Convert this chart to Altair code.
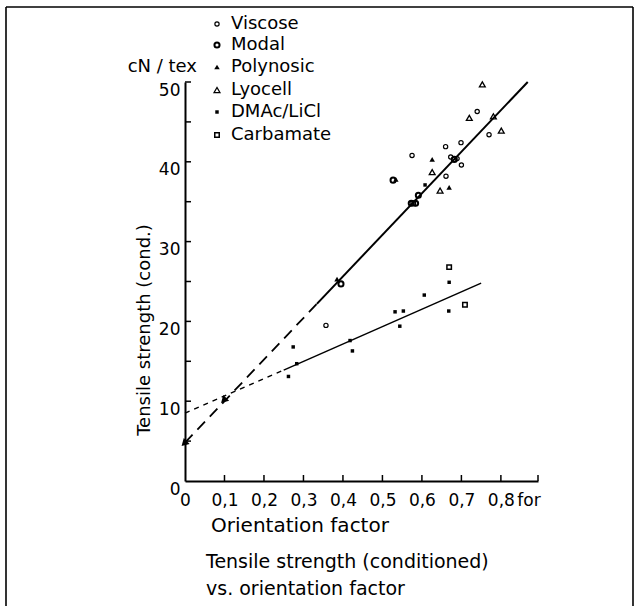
import altair as alt
import pandas as pd

# Orientation factor (x) vs. conditioned tensile strength in cN/tex (y), per fibre type
viscose_x = [0.575, 0.660, 0.699, 0.700, 0.661, 0.770, 0.357, 0.740, 0.673, 0.689]
viscose_y = [40.8, 41.9, 42.4, 39.6, 38.2, 43.4, 19.5, 46.3, 40.6, 40.4]
modal_x = [0.395, 0.527, 0.573, 0.584, 0.591, 0.682]
modal_y = [24.7, 37.7, 34.8, 34.8, 35.8, 40.3]
polynosic_x = [0.626, 0.669, 0.385, 0.534]
polynosic_y = [40.3, 36.8, 25.3, 37.8]
lyocell_x = [0.753, 0.720, 0.781, 0.801, 0.626, 0.646]
lyocell_y = [49.7, 45.5, 45.7, 43.9, 38.7, 36.4]
dmac_x = [0.262, 0.283, 0.274, 0.418, 0.424, 0.532, 0.553, 0.544, 0.606, 0.668, 0.669, 0.608]
dmac_y = [13.1, 14.7, 16.8, 17.6, 16.3, 21.2, 21.3, 19.4, 23.3, 21.3, 24.9, 37.1]
carbamate_x = [0.669, 0.709, 0.578]
carbamate_y = [26.8, 22.1, 34.8]

# Regression lines (solid where measured, dashed where extrapolated)
upper_solid_x, upper_solid_y = [0.334, 0.868], [22.2, 50.0]
upper_dash_x, upper_dash_y = [0.0, 0.334], [4.8, 22.2]
lower_dash_x, lower_dash_y = [0.0, 0.25], [8.5, 13.9]
lower_solid_x, lower_solid_y = [0.25, 0.75], [13.9, 24.8]
arrow_x, arrow_y = [0.0, 0.1], [4.8, 10.2]

# Axis ticks and labels
y_label_values = [0, 10, 20, 30, 40, 50]
y_tick_values = [5, 10, 15, 20, 25, 30, 35, 40, 45, 50]
x_label_values = [0, 0.1, 0.2, 0.3, 0.4, 0.5, 0.6, 0.7, 0.8, 0.87]
x_tick_values = [0.1, 0.2, 0.3, 0.4, 0.5, 0.6, 0.7, 0.8, 0.894]

legend_names = ["Viscose", "Modal", "Polynosic", "Lyocell", "DMAc/LiCl", "Carbamate"]

FONT = "DejaVu Sans"
W, H = 353, 399

xs = alt.Scale(domain=[0, 0.894], nice=False, zero=False)
ys = alt.Scale(domain=[0, 50], nice=False)

x_axis = alt.Axis(
    values=x_label_values, ticks=False, grid=False, title=None,
    labelExpr="datum.value > 0.85 ? 'for' : (datum.value == 0 ? '0' : replace(format(datum.value, '.1f'), '.', ','))",
    labelFont=FONT, labelFontSize=17, labelColor="black", labelPadding=11,
    labelFlush=False, labelOverlap=False,
    domainColor="black", domainWidth=1.8,
)
y_axis = alt.Axis(
    values=y_label_values, ticks=False, grid=False, title=None,
    labelFont=FONT, labelFontSize=17, labelColor="black", labelPadding=5,
    labelBaseline="top", labelFlush=False, labelOverlap=False,
    domainColor="black", domainWidth=2.0,
)

X = alt.X("x:Q", scale=xs, axis=x_axis)
Y = alt.Y("y:Q", scale=ys, axis=y_axis)

layers = []

# inward tick marks
layers.append(
    alt.Chart(pd.DataFrame({"y": y_tick_values})).mark_rule(color="black", strokeWidth=1.5)
    .encode(y=Y, x=alt.value(0), x2=alt.value(6))
)
layers.append(
    alt.Chart(pd.DataFrame({"x": x_tick_values})).mark_rule(color="black", strokeWidth=1.5)
    .encode(x=X, y=alt.value(H), y2=alt.value(H - 6))
)

# fit lines
def line(xv, yv, width, dash=None):
    kw = dict(color="black", strokeWidth=width)
    if dash:
        kw["strokeDash"] = dash
    return alt.Chart(pd.DataFrame({"x": xv, "y": yv})).mark_line(**kw).encode(x=X, y=Y)

layers.append(line(upper_solid_x, upper_solid_y, 2.0))
layers.append(line(upper_dash_x, upper_dash_y, 1.8, [11, 7]))
layers.append(line(lower_solid_x, lower_solid_y, 1.5))
layers.append(line(lower_dash_x, lower_dash_y, 1.5, [5, 5]))

layers.append(
    alt.Chart(pd.DataFrame({"x": arrow_x, "y": arrow_y}))
    .mark_point(shape="triangle", filled=True, color="black", size=70, angle=225, opacity=1)
    .encode(x=X, y=Y)
)

# marker style per fibre type: (shape, filled, size, strokeWidth)
styles = {
    "Viscose": ("circle", False, 18, 1.2),
    "Modal": ("circle", False, 26, 2.0),
    "Polynosic": ("triangle-up", True, 30, 1.0),
    "Lyocell": ("triangle-up", False, 34, 1.3),
    "DMAc/LiCl": ("square", True, 12, 1.0),
    "Carbamate": ("square", False, 20, 1.5),
}
series = {
    "Viscose": (viscose_x, viscose_y),
    "Modal": (modal_x, modal_y),
    "Polynosic": (polynosic_x, polynosic_y),
    "Lyocell": (lyocell_x, lyocell_y),
    "DMAc/LiCl": (dmac_x, dmac_y),
    "Carbamate": (carbamate_x, carbamate_y),
}

for name in legend_names:
    shape, filled, size, sw = styles[name]
    xv, yv = series[name]
    layers.append(
        alt.Chart(pd.DataFrame({"x": xv, "y": yv}))
        .mark_point(shape=shape, filled=filled, color="black", size=size,
                    strokeWidth=sw, opacity=1)
        .encode(x=X, y=Y)
    )

# legend block above the plot
legend_rows = [-58, -37, -15, 8, 30, 53]
for name, ry in zip(legend_names, legend_rows):
    shape, filled, size, sw = styles[name]
    layers.append(
        alt.Chart(pd.DataFrame({"k": [name]}))
        .mark_point(shape=shape, filled=filled, color="black", size=size,
                    strokeWidth=sw, opacity=1)
        .encode(x=alt.value(32), y=alt.value(ry))
    )
    layers.append(
        alt.Chart(pd.DataFrame({"label": [name]}))
        .mark_text(align="left", baseline="middle", font=FONT, fontSize=18, color="black")
        .encode(text="label:N", x=alt.value(46), y=alt.value(ry))
    )

# free text: unit, axis titles, caption
def txt(s, x, y, align="left", angle=0, size=18):
    kw = dict(align=align, baseline="middle", font=FONT, fontSize=size, color="black")
    if angle:
        kw["angle"] = angle
    return alt.Chart(pd.DataFrame({"t": [s]})).mark_text(**kw).encode(
        text="t:N", x=alt.value(x), y=alt.value(y))

layers.append(txt("cN / tex", 12, -15, align="right", size=18))
layers.append(txt("Tensile strength (cond.)", -40, 248, align="center", angle=270))
layers.append(txt("Orientation factor", 115, 444, align="center", size=20))
layers.append(txt("Tensile strength (conditioned)", 21, 480, size=19))
layers.append(txt("vs. orientation factor", 21, 507, size=19))

# page frame
def frame(**enc):
    return alt.Chart(pd.DataFrame({"k": [0]})).mark_rule(color="black", strokeWidth=1.6).encode(**enc)

layers.append(frame(x=alt.value(-179), y=alt.value(-75), y2=alt.value(540)))
layers.append(frame(x=alt.value(448), y=alt.value(-75), y2=alt.value(540)))
layers.append(frame(x=alt.value(-179), x2=alt.value(448), y=alt.value(-75)))

chart = alt.layer(*layers).properties(
    width=W, height=H,
    padding={"left": 185, "top": 82, "right": 102, "bottom": 125},
    autosize=alt.AutoSizeParams(type="none"),
    background="white",
).configure_view(stroke=None)

chart.save("out.html", embed_options={"renderer": "svg", "actions": False})
